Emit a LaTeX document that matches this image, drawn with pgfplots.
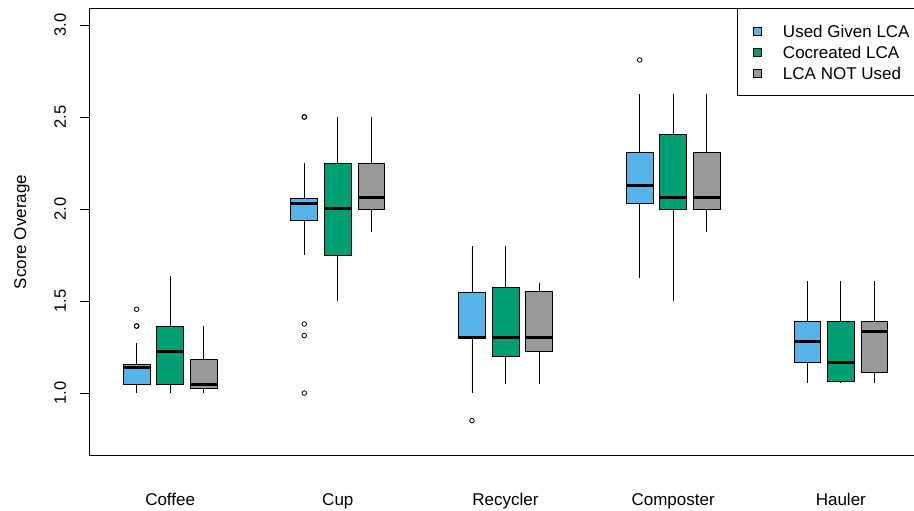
\documentclass[border=0pt]{standalone}
\usepackage{fontspec}
\setmainfont{Liberation Sans}
\usepackage{pgfplots}
\pgfplotsset{compat=1.18}
\usepgfplotslibrary{statistics}
\definecolor{cblue}{HTML}{56B4E9}
\definecolor{cgreen}{HTML}{009E73}
\definecolor{cgray}{HTML}{999999}
\pgfplotsset{
  bx/.style={fill=#1, draw=black, line width=0.8pt, mark=o, mark size=2.3pt,
    mark options={draw=black, fill=none, line width=0.8pt, solid}},
}
\begin{document}
\begin{tikzpicture}
\begin{axis}[
  name=ax,
  scale only axis, width=833pt, height=447.2pt,
  xmin=-0.42, xmax=24.42, ymin=0.66, ymax=3.09,
  axis line style={line width=0.8pt, black},
  xtick={2,7,12,17,22},
  xticklabels={Coffee,Cup,Recycler,Composter,Hauler},
  xtick pos=bottom, ytick pos=left,
  x tick style={draw=none},
  xticklabel style={font=\fontsize{17}{20}\selectfont, anchor=base, inner sep=0pt, yshift=-40.5pt},
  ytick={1,1.5,2,2.5,3},
  tick align=outside, major tick length=9pt,
  y tick style={line width=0.8pt, black},
  yticklabel style={font=\fontsize{16.5}{19}\selectfont, anchor=base, inner sep=0pt, xshift=-14pt, rotate=90,
    /pgf/number format/.cd, fixed, fixed zerofill, precision=1},
  /pgf/number format/assume math mode=true,
  ylabel={Score Overage},
  ylabel style={at={(axis description cs:-0.0756,0.5)}, anchor=base, font=\fontsize{17}{20}\selectfont},
  boxplot/draw direction=y,
  boxplot/box extend=0.8,
  boxplot/whisker extend=0,
  boxplot/every median/.style={line width=3pt, black},
  boxplot/every box/.style={draw=black, line width=0.8pt},
  boxplot/every whisker/.style={draw=black, line width=0.8pt},
  legend style={at={(0.7779,1)}, anchor=north west, draw=black, line width=0.8pt,
    inner xsep=16pt, inner ysep=12pt, font=\fontsize{17}{20}\selectfont, row sep=0pt,
    nodes={inner sep=0pt, text height=16.6pt, text depth=4.4pt},
    /tikz/every odd column/.append style={column sep=21pt}},
  legend cell align=left,
]
% legend
\addlegendimage{legend image code/.code={\filldraw[fill=cblue, draw=black, line width=0.6pt] (0pt,-4pt) rectangle (8pt,4pt);}}
\addlegendentry{Used Given LCA}
\addlegendimage{legend image code/.code={\filldraw[fill=cgreen, draw=black, line width=0.6pt] (0pt,-4pt) rectangle (8pt,4pt);}}
\addlegendentry{Cocreated LCA}
\addlegendimage{legend image code/.code={\filldraw[fill=cgray, draw=black, line width=0.6pt] (0pt,-4pt) rectangle (8pt,4pt);}}
\addlegendentry{LCA NOT Used}

% Coffee
\addplot[bx=cblue, forget plot, boxplot prepared={draw position=1, lower whisker=1.0, lower quartile=1.047, median=1.138, upper quartile=1.158, upper whisker=1.273}]
  table[row sep=\\, y index=0, header=false] {1.364\\1.364\\1.455\\};
\addplot[bx=cgreen, forget plot, boxplot prepared={draw position=2, lower whisker=1.0, lower quartile=1.047, median=1.228, upper quartile=1.36, upper whisker=1.637}] coordinates {};
\addplot[bx=cgray, forget plot, boxplot prepared={draw position=3, lower whisker=1.0, lower quartile=1.025, median=1.047, upper quartile=1.183, upper whisker=1.364}] coordinates {};
% Cup
\addplot[bx=cblue, forget plot, boxplot prepared={draw position=6, lower whisker=1.75, lower quartile=1.937, median=2.031, upper quartile=2.058, upper whisker=2.25}]
  table[row sep=\\, y index=0, header=false] {2.5\\2.5\\1.375\\1.3125\\1.0\\};
\addplot[bx=cgreen, forget plot, boxplot prepared={draw position=7, lower whisker=1.5, lower quartile=1.75, median=2.0, upper quartile=2.25, upper whisker=2.5}] coordinates {};
\addplot[bx=cgray, forget plot, boxplot prepared={draw position=8, lower whisker=1.875, lower quartile=2.0, median=2.061, upper quartile=2.25, upper whisker=2.5}] coordinates {};
% Recycler
\addplot[bx=cblue, forget plot, boxplot prepared={draw position=11, lower whisker=1.0, lower quartile=1.295, median=1.30, upper quartile=1.549, upper whisker=1.80}]
  table[row sep=\\, y index=0, header=false] {0.85\\};
\addplot[bx=cgreen, forget plot, boxplot prepared={draw position=12, lower whisker=1.05, lower quartile=1.20, median=1.30, upper quartile=1.574, upper whisker=1.80}] coordinates {};
\addplot[bx=cgray, forget plot, boxplot prepared={draw position=13, lower whisker=1.05, lower quartile=1.226, median=1.30, upper quartile=1.55, upper whisker=1.60}] coordinates {};
% Composter
\addplot[bx=cblue, forget plot, boxplot prepared={draw position=16, lower whisker=1.623, lower quartile=2.031, median=2.125, upper quartile=2.31, upper whisker=2.623}]
  table[row sep=\\, y index=0, header=false] {2.81\\};
\addplot[bx=cgreen, forget plot, boxplot prepared={draw position=17, lower whisker=1.50, lower quartile=2.0, median=2.063, upper quartile=2.404, upper whisker=2.623}] coordinates {};
\addplot[bx=cgray, forget plot, boxplot prepared={draw position=18, lower whisker=1.875, lower quartile=2.0, median=2.063, upper quartile=2.31, upper whisker=2.623}] coordinates {};
% Hauler
\addplot[bx=cblue, forget plot, boxplot prepared={draw position=21, lower whisker=1.056, lower quartile=1.168, median=1.279, upper quartile=1.388, upper whisker=1.61}] coordinates {};
\addplot[bx=cgreen, forget plot, boxplot prepared={draw position=22, lower whisker=1.056, lower quartile=1.061, median=1.168, upper quartile=1.388, upper whisker=1.61}] coordinates {};
\addplot[bx=cgray, forget plot, boxplot prepared={draw position=23, lower whisker=1.056, lower quartile=1.112, median=1.333, upper quartile=1.388, upper whisker=1.61}] coordinates {};
\end{axis}
\pgfresetboundingbox
\path[use as bounding box] ([xshift=-89pt,yshift=-54.4pt]ax.south west) rectangle ([xshift=825pt,yshift=8.4pt]ax.north west);
\end{tikzpicture}
\end{document}
